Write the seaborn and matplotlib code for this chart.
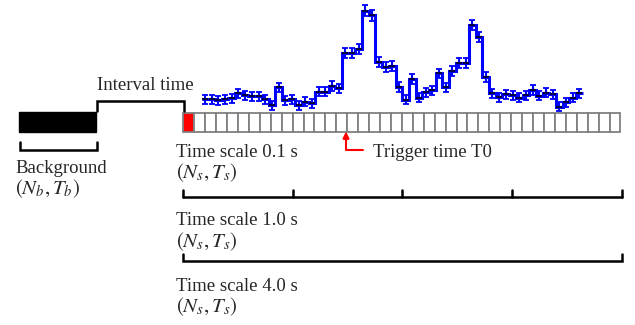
import numpy as np
import pandas as pd
import seaborn as sns
import matplotlib.pyplot as plt
from matplotlib.patches import Rectangle

# ---------------- data ----------------
# light-curve counts per time bin (arbitrary units) and their 1-sigma errors
counts = [130, 130, 120, 130, 137, 187, 170, 160, 160, 130,
          70, 247, 120, 130, 70, 103, 87, 203, 203, 260,
          237, 593, 587, 627, 1013, 970, 503, 453, 463, 253,
          125, 330, 143, 197, 220, 387, 247, 410, 487, 487,
          870, 753, 353, 187, 147, 177, 170, 143, 170, 220,
          163, 193, 177, 53, 97, 143, 187]
errors = [45, 45, 45, 45, 45, 45, 45, 45, 45, 45,
          45, 48, 45, 45, 45, 45, 45, 45, 45, 48,
          48, 50, 50, 50, 55, 55, 50, 50, 50, 48,
          45, 48, 45, 45, 45, 48, 45, 48, 50, 50,
          52, 52, 48, 45, 45, 45, 45, 45, 45, 48,
          45, 45, 45, 45, 45, 45, 48]
n_cells = 40
tick_fracs_01 = [0.0, 0.25, 0.5, 0.75, 1.0]
labels_scale = ["Time scale 0.1 s", "Time scale 1.0 s", "Time scale 4.0 s"]
label_ns = r"$(N_s,T_s)$"
label_bg = "Background"
label_nb = r"$(N_b,T_b)$"
label_interval = "Interval time"
label_trigger = "Trigger time T0"

# ---------------- style ----------------
sns.set_theme(style="white")
plt.rcParams["font.family"] = ["Liberation Serif", "DejaVu Serif"]
plt.rcParams["mathtext.fontset"] = "stix"
FS = 13.5
FSM = 15
LW = 1.8

W, H = 635, 325
fig = plt.figure(figsize=(W / 100, H / 100), dpi=100)
ax = fig.add_axes([0, 0, 1, 1])
ax.set_xlim(0, W)
ax.set_ylim(H, 0)
ax.axis("off")

# background block + bracket
ax.add_patch(Rectangle((19, 112), 77, 20, fc="black", ec="black", lw=1))
ax.plot([20, 20, 97, 97], [142, 150, 150, 142], color="black", lw=LW,
        solid_joinstyle="miter")
ax.text(15, 173, label_bg, fontsize=FS, ha="left", va="baseline")
ax.text(15, 194, label_nb, fontsize=FSM, ha="left", va="baseline")

# interval bracket
ax.plot([97, 97, 183.5, 183.5], [111, 101, 101, 111], color="black", lw=LW,
        solid_joinstyle="miter")
ax.text(145, 90, label_interval, fontsize=FS, ha="center", va="baseline")

# cell strip
x0, x1 = 183.3, 620.5
cw = (x1 - x0) / n_cells
for i in range(n_cells):
    ax.add_patch(Rectangle((x0 + i * cw, 113), cw, 18.5,
                           fc="#ff0000" if i == 0 else "white",
                           ec="#808080", lw=1.3))

# trigger arrow
ax.plot([346, 346, 362.5], [137, 150, 150], color="red", lw=1.5)
ax.annotate("", xy=(346, 131.5), xytext=(346, 140),
            arrowprops=dict(arrowstyle="-|>", color="red", lw=1.5,
                            mutation_scale=9, shrinkA=0, shrinkB=0))
ax.text(373, 157, label_trigger, fontsize=FS, ha="left", va="baseline")

# time-scale labels and brackets
text_base = [157, 225, 291]
ns_base = [178, 247, 312]
for lab, tb, nb in zip(labels_scale, text_base, ns_base):
    ax.text(176, tb, lab, fontsize=FS, ha="left", va="baseline")
    ax.text(176, nb, label_ns, fontsize=FSM, ha="left", va="baseline")

bx0, bx1 = 183.3, 621.5
ax.plot([bx0, bx1], [197, 197], color="black", lw=LW)
for f in tick_fracs_01:
    xx = bx0 + f * (bx1 - bx0)
    ax.plot([xx, xx], [190, 197], color="black", lw=LW)
ax.plot([bx0, bx0, bx1, bx1], [254, 261, 261, 254], color="black", lw=LW,
        solid_joinstyle="miter")

# ---------------- light curve ----------------
lc_left, lc_right = 201.7, 582.7
ymax = 1120
lax = fig.add_axes([lc_left / W, (H - 112) / H, (lc_right - lc_left) / W, 112 / H])
lax.set_xlim(0, len(counts))
lax.set_ylim(0, ymax)
lax.axis("off")
lax.patch.set_alpha(0)

df = pd.DataFrame({"bin": np.arange(len(counts)) + 0.5,
                   "counts": counts, "err": errors})
edges = np.arange(len(counts) + 1)
lax.stairs(df["counts"], edges, color="#0000ff", lw=2.2, clip_on=False,
           baseline=None)
lax.errorbar(df["bin"], df["counts"], yerr=df["err"], fmt="none",
             ecolor="#0000ff", elinewidth=1.5, capsize=2.0, capthick=1.3,
             clip_on=False)
sns.scatterplot(data=df, x="bin", y="counts", ax=lax, marker="_",
                color="#000040", s=24, linewidth=1.5, legend=False,
                clip_on=False, zorder=5)
lax.set_xlabel("")
lax.set_ylabel("")

fig.savefig("out.png", dpi=100)
